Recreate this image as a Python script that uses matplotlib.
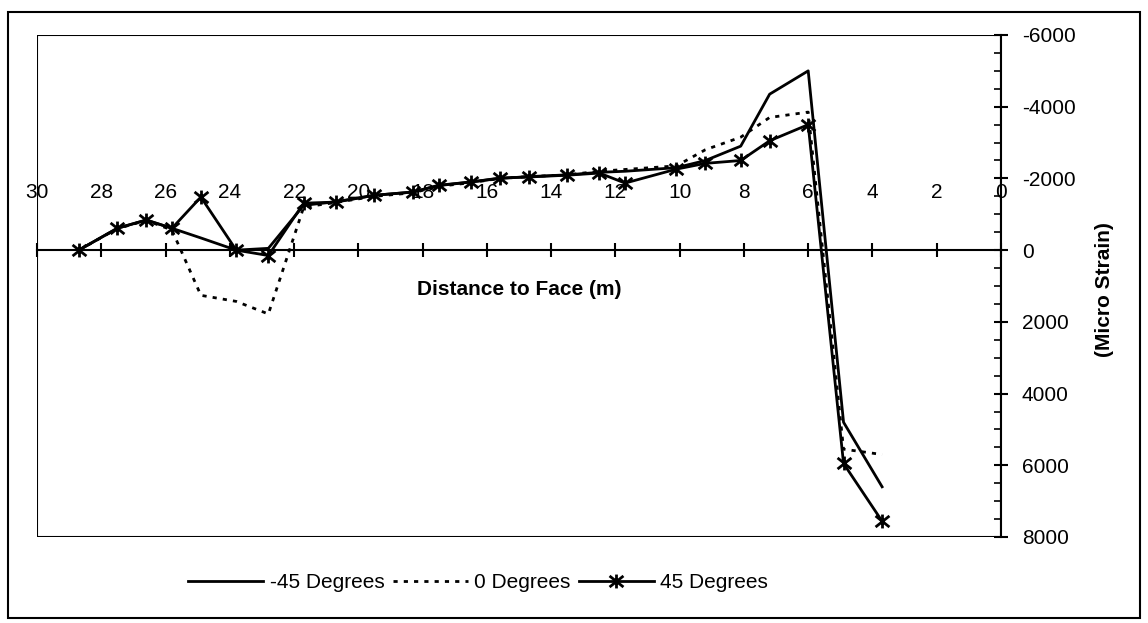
import matplotlib
matplotlib.use("Agg")
import matplotlib.pyplot as plt
from matplotlib.patches import Rectangle
from matplotlib.path import Path
from matplotlib.ticker import MultipleLocator
import matplotlib.transforms as mtransforms

plt.rcParams['font.family'] = ['Liberation Sans', 'DejaVu Sans']

# distance to face (m) for each reading
distance = [28.7, 27.5, 26.6, 25.8, 24.9, 23.8, 22.8, 21.7, 20.7, 19.5, 18.3,
            17.5, 16.5, 15.6, 14.7, 13.5, 12.5, 11.7, 10.1, 9.2, 8.1, 7.2,
            6.0, 4.9, 3.7]

# micro strain readings per gauge orientation
strain_m45 = [0, -610, -840, -610, -340, 0, -50, -1250, -1350, -1530, -1620,
              -1800, -1900, -2000, -2050, -2100, -2170, -2200, -2300, -2500,
              -2900, -4350, -5000, 4800, 6600]
strain_0 = [0, -600, -830, -560, 1260, 1430, 1780, -1200, -1330, -1500, -1600,
            -1780, -1880, -2000, -2050, -2100, -2200, -2250, -2350, -2800,
            -3150, -3700, -3850, 5550, 5700]
strain_45 = [0, -610, -840, -610, -1480, 0, 150, -1310, -1340, -1530, -1620,
             -1810, -1900, -2010, -2040, -2090, -2150, -1870, -2260, -2420,
             -2500, -3050, -3500, 5950, 7560]

series_labels = ['-45 Degrees', '0 Degrees', '45 Degrees']
x_ticks = list(range(0, 31, 2))
y_ticks = list(range(-6000, 8001, 2000))

# star marker: an X with a vertical stroke
star = Path([(-1, -0.8), (1, 0.8), (-1, 0.8), (1, -0.8), (0, -1), (0, 1)],
            [Path.MOVETO, Path.LINETO, Path.MOVETO, Path.LINETO,
             Path.MOVETO, Path.LINETO])

fig = plt.figure(figsize=(11.48, 6.23), dpi=100)
ax = fig.add_axes([37 / 1148, 1 - 537 / 623, 964 / 1148, 502 / 623])

ax.plot(distance, strain_m45, color='black', lw=2, label=series_labels[0])
ax.plot(distance, strain_0, color='black', lw=2, ls=(0, (1.5, 2.2)),
        label=series_labels[1])
ax.plot(distance, strain_45, color='black', lw=2, marker=star, ms=10, mew=2,
        label=series_labels[2])

ax.set_xlim(30, 0)
ax.set_ylim(8000, -6000)

# plot area border
ax.add_patch(Rectangle((0, 0), 1, 1, transform=ax.transAxes, fill=False,
                       ec='black', lw=1.5, zorder=5))

# x axis runs along the zero strain line, labels above it
for side in ['left', 'bottom']:
    ax.spines[side].set_visible(False)
ax.spines['top'].set_position(('data', 0))
ax.spines['top'].set_linewidth(1.5)
ax.spines['right'].set_linewidth(1.5)
ax.set_xticks(x_ticks)
ax.set_xticklabels([str(t) for t in x_ticks])
ax.tick_params(axis='x', bottom=False, labelbottom=False, top=True,
               labeltop=True, direction='inout', length=10, width=1.5,
               pad=30, labelsize=15)

# strain axis on the right
ax.set_yticks(y_ticks)
ax.set_yticklabels([str(t) for t in y_ticks])
ax.yaxis.set_minor_locator(MultipleLocator(500))
ax.tick_params(axis='y', left=False, labelleft=False, right=True,
               labelright=True, direction='inout', length=10, width=1.5,
               pad=10, labelsize=15)
ax.tick_params(axis='y', which='minor', left=False, right=True,
               direction='in', length=5, width=1.2)

trans = mtransforms.blended_transform_factory(ax.transAxes, ax.transData)
ax.text(0.5, 1100, 'Distance to Face (m)', transform=trans, ha='center',
        va='center', fontsize=15, fontweight='bold')
fig.text(1105 / 1148, 1 - 290 / 623, '(Micro Strain)', rotation=90,
         ha='center', va='center', fontsize=15, fontweight='bold')

fig.legend(loc='center', bbox_to_anchor=(478 / 1148, 1 - 583 / 623), ncol=3,
           frameon=False, fontsize=15, handlelength=3.6, columnspacing=0.4,
           handletextpad=0.3)

# outer chart frame
fig.patches.append(Rectangle((8 / 1148, 1 - 618 / 623), 1132 / 1148,
                             606 / 623, transform=fig.transFigure,
                             fill=False, ec='black', lw=1.5))

fig.savefig('out.png', dpi=100)
